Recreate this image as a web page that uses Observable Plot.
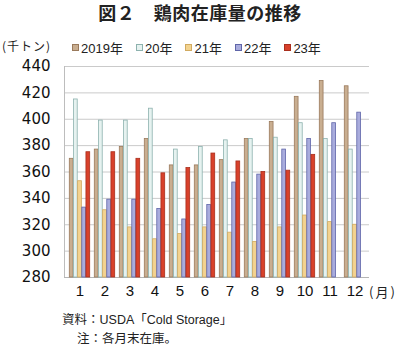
<!DOCTYPE html>
<html><head><meta charset="utf-8">
<script src="https://cdn.jsdelivr.net/npm/d3@7"></script>
<script src="https://cdn.jsdelivr.net/npm/@observablehq/plot@0.6"></script>
<style>
body{margin:0;background:#fff;width:400px;height:348px;position:relative;overflow:hidden;font-family:"Noto Sans CJK JP","Noto Sans",sans-serif;color:#222;}
#title{position:absolute;left:0;width:400px;top:-1px;text-align:center;font-size:18px;font-weight:700;letter-spacing:0.5px;}
#unit{position:absolute;left:2px;top:37px;font-size:12px;white-space:nowrap;letter-spacing:1px;}
#legend{position:absolute;left:72px;top:38px;display:flex;gap:13px;font-family:"Liberation Sans","Noto Sans CJK JP",sans-serif;font-size:13px;white-space:nowrap;}
#legend .it{display:flex;align-items:center;gap:2px;}
#legend .sw{width:7px;height:7px;box-sizing:border-box;border:1px solid;}
#legend .lb{font-family:"Liberation Sans",sans-serif;}
#legend .lb span{font-family:"Noto Sans CJK JP",sans-serif;}
#chart{position:absolute;left:0;top:56px;}
#month{position:absolute;left:369px;top:282px;font-size:13px;white-space:nowrap;letter-spacing:2px;}
#src{position:absolute;left:62px;top:309px;font-size:12.5px;white-space:nowrap;}
#note{position:absolute;left:77px;top:328px;font-size:12.5px;white-space:nowrap;}
.lat{font-family:"Liberation Sans",sans-serif;}
</style></head><body>
<div id="title">図２　鶏肉在庫量の推移</div>
<div id="unit">(千トン)</div>
<div id="legend"></div>
<div id="chart"></div>
<div id="month">(月)</div>
<div id="src">資料：<span class="lat">USDA</span>「<span class="lat">Cold Storage</span>」</div>
<div id="note">注：各月末在庫。</div>
<script>
const months = ["1","2","3","4","5","6","7","8","9","10","11","12"];
const years = ["2019年","20年","21年","22年","23年"];
const v2019 = [370, 377, 379, 385, 365, 365, 369, 385, 398, 417, 429, 425];
const v2020 = [415, 399, 399, 408, 377, 379, 384, 385, 386, 397, 385, 377];
const v2021 = [353, 331, 318, 309, 313, 318, 314, 307, 318, 327, 322, 320];
const v2022 = [333, 339, 339, 332, 324, 335, 352, 358, 377, 385, 397, 405];
const v2023 = [375, 375, 370, 359, 363, 374, 368, 360, 361, 373, null, null];
const yTicks = [280, 300, 320, 340, 360, 380, 400, 420, 440];

const series = [v2019, v2020, v2021, v2022, v2023];
const fills = ["#c9ae90", "#e6f2f0", "#f3d38f", "#a9acdd", "#d8412b"];
const strokes = ["#9a7a5c", "#8db2ae", "#d1aa60", "#5f65a8", "#a92f1d"];

// legend
const leg = document.getElementById("legend");
years.forEach((y, i) => {
  const it = document.createElement("div"); it.className = "it";
  const sw = document.createElement("div"); sw.className = "sw";
  sw.style.background = fills[i]; sw.style.borderColor = strokes[i];
  const lb = document.createElement("div"); lb.className = "lb";
  lb.innerHTML = y.replace("年", "") + "<span>年</span>";
  it.appendChild(sw); it.appendChild(lb); leg.appendChild(it);
});

const W = 400, ML = 64, MR = 31, PAD = 0.17;
const step = (W - ML - MR) / (months.length + PAD);
const bw = step * (1 - PAD);
const sub = bw / years.length;

const marks = [
  Plot.gridY(yTicks, {stroke: "#cacaca", strokeOpacity: 1, strokeWidth: 1}),
  Plot.frame({anchor: "left", stroke: "#bdbdbd"}),
  Plot.ruleY([280], {stroke: "#b5b5b5"})
];
series.forEach((vals, j) => {
  const rows = months.map((m, i) => ({month: m, value: vals[i]})).filter(d => d.value != null);
  marks.push(Plot.barY(rows, {
    x: "month", y1: 280, y2: "value",
    fill: fills[j], stroke: strokes[j], strokeWidth: 0.8,
    insetLeft: j * sub + 0.3, insetRight: (years.length - 1 - j) * sub + 0.3
  }));
});
marks.push(Plot.axisY(yTicks, {tickSize: 0, tickPadding: 14, fontSize: 15, label: null, fill: "#111",
  fontFamily: "DejaVu Sans, sans-serif", letterSpacing: "1px"}));
marks.push(Plot.axisX({tickSize: 0, tickPadding: 8, fontSize: 15, label: null, fill: "#111"}));

const chart = Plot.plot({
  width: W, height: 246,
  marginLeft: ML, marginRight: MR, marginTop: 10, marginBottom: 25,
  style: {fontFamily: "Liberation Sans, Arial, sans-serif", background: "transparent"},
  x: {domain: months, padding: PAD},
  y: {domain: [280, 440]},
  marks
});
document.getElementById("chart").appendChild(chart);
</script>
</body></html>
